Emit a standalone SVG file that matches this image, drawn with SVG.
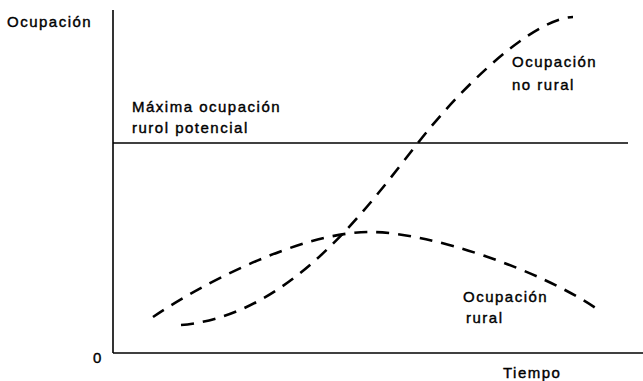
<svg xmlns="http://www.w3.org/2000/svg" width="643" height="381" viewBox="0 0 643 381">
<style>
.t{font-family:"Liberation Sans",Arial,sans-serif;font-size:15px;letter-spacing:1.5px;fill:#000;stroke:#000;stroke-width:0.4}
.ax{stroke:#000;stroke-width:1.6;fill:none}
.d{stroke:#000;stroke-width:2.6;fill:none;stroke-dasharray:13 9}
</style>
<rect width="643" height="381" fill="#fff"/>
<g id="axes">
<line class="ax" x1="113" y1="10" x2="113" y2="353"/>
<line class="ax" x1="113" y1="353" x2="643" y2="353"/>
<text class="t" x="7" y="27">Ocupación</text>
<text class="t" x="93" y="363">0</text>
<text class="t" x="503" y="378">Tiempo</text>
</g>
<g id="max-line">
<line class="ax" x1="113" y1="143" x2="628" y2="143"/>
<text class="t" x="132" y="112">Máxima ocupación</text>
<text class="t" x="132" y="133">rurol potencial</text>
</g>
<g id="connectors">
<path id="rural-curve" class="d" d="M153,317 C200,285 300,232 370,232 C430,232 540,270 597,309"/>
<path id="norural-curve" class="d" d="M181,325 C300,315 380,188 430,128 C480,68 540,18 573,17"/>
</g>
<g id="label-norural">
<text class="t" x="512" y="67">Ocupación</text>
<text class="t" x="512" y="90">no rural</text>
</g>
<g id="label-rural">
<text class="t" x="463" y="302">Ocupación</text>
<text class="t" x="466" y="323">rural</text>
</g>
</svg>
